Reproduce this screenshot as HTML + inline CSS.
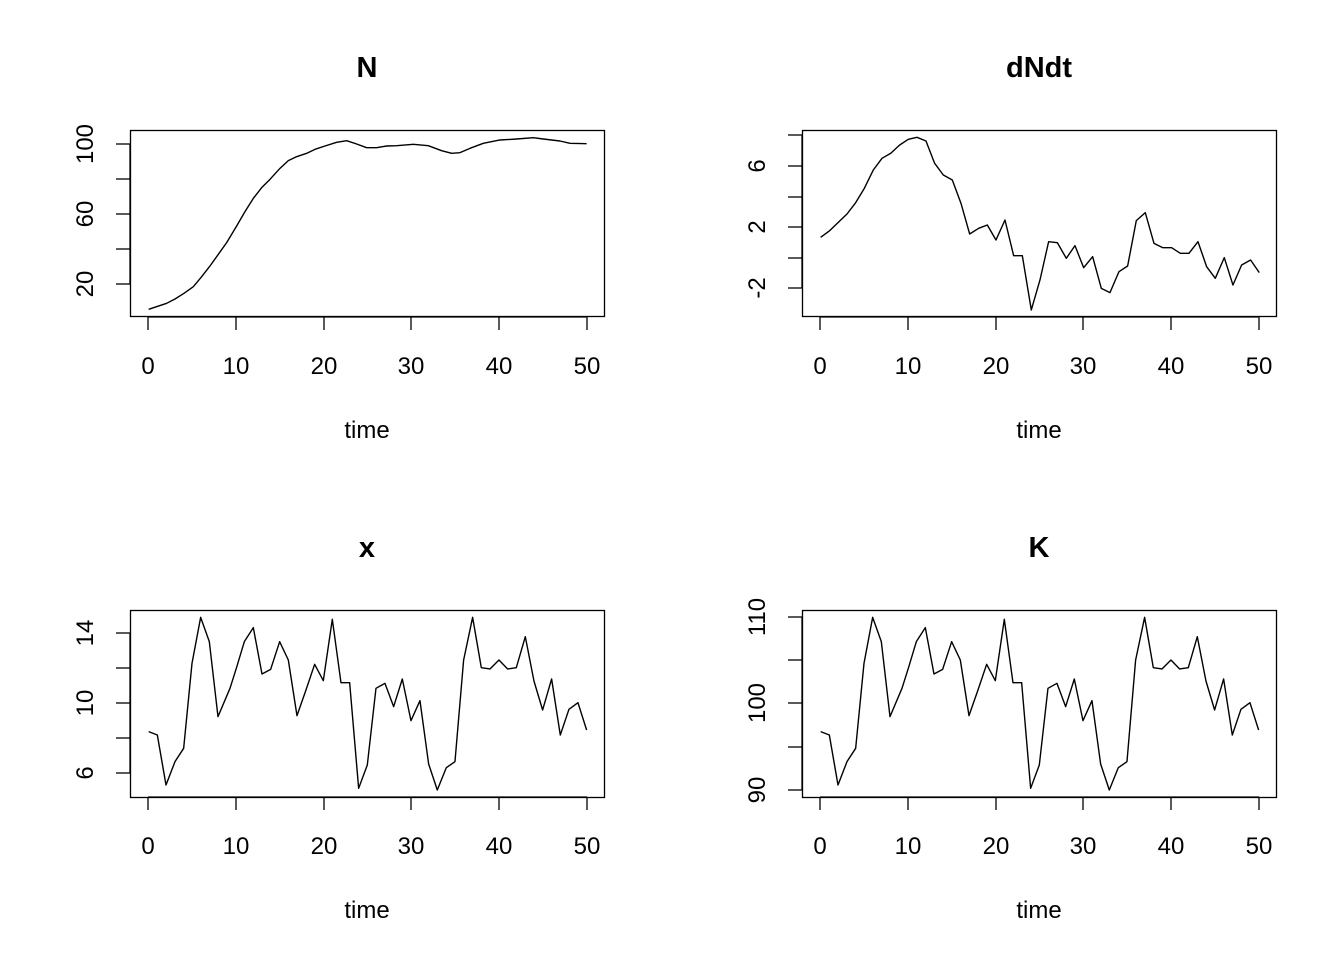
<!DOCTYPE html>
<html><head><style>body{margin:0;background:#fff}svg{display:block}text{font-family:"Liberation Sans",Arial,sans-serif;fill:#000}</style></head>
<body>
<svg width="1344" height="960" viewBox="0 0 1344 960" xmlns="http://www.w3.org/2000/svg">
<defs>
<g id="xaxis" stroke="#000" stroke-width="1.3" fill="none">
<line x1="148" y1="0" x2="587" y2="0"/>
<line x1="148" y1="0" x2="148" y2="13"/><line x1="236" y1="0" x2="236" y2="13"/><line x1="324" y1="0" x2="324" y2="13"/><line x1="411" y1="0" x2="411" y2="13"/><line x1="499" y1="0" x2="499" y2="13"/><line x1="587" y1="0" x2="587" y2="13"/>
</g>
<g id="xlabels" font-size="24" text-anchor="middle">
<text x="148" y="0">0</text><text x="236" y="0">10</text><text x="324" y="0">20</text><text x="411" y="0">30</text><text x="499" y="0">40</text><text x="587" y="0">50</text>
</g>
</defs>
<g fill="none" stroke="#000" stroke-width="1.3">
<rect x="130.5" y="130.5" width="474" height="186"/>
<rect x="802.5" y="130.5" width="474" height="186"/>
<rect x="130.5" y="610.5" width="474" height="187"/>
<rect x="802.5" y="610.5" width="474" height="187"/>
</g>
<use href="#xaxis" x="0" y="317"/><use href="#xaxis" x="672" y="317"/>
<use href="#xaxis" x="0" y="797"/><use href="#xaxis" x="672" y="797"/>
<use href="#xlabels" x="0" y="374"/><use href="#xlabels" x="672" y="374"/>
<use href="#xlabels" x="0" y="854"/><use href="#xlabels" x="672" y="854"/>
<g font-size="24" text-anchor="middle">
<text x="367" y="438">time</text><text x="1039" y="438">time</text>
<text x="367" y="918">time</text><text x="1039" y="918">time</text>
</g>
<g font-size="29" font-weight="bold" text-anchor="middle">
<text x="367" y="77">N</text><text x="1039" y="77">dNdt</text>
<text x="367" y="557">x</text><text x="1039" y="557">K</text>
</g>
<!-- y axes -->
<g stroke="#000" stroke-width="1.3" fill="none">
<line x1="130" y1="144" x2="130" y2="284"/>
<line x1="116" y1="144" x2="130" y2="144"/><line x1="116" y1="179" x2="130" y2="179"/><line x1="116" y1="214" x2="130" y2="214"/><line x1="116" y1="249" x2="130" y2="249"/><line x1="116" y1="284" x2="130" y2="284"/>
<line x1="802" y1="135" x2="802" y2="288"/>
<line x1="788" y1="135" x2="802" y2="135"/><line x1="788" y1="166" x2="802" y2="166"/><line x1="788" y1="197" x2="802" y2="197"/><line x1="788" y1="227" x2="802" y2="227"/><line x1="788" y1="258" x2="802" y2="258"/><line x1="788" y1="288" x2="802" y2="288"/>
<line x1="130" y1="633" x2="130" y2="773"/>
<line x1="116" y1="633" x2="130" y2="633"/><line x1="116" y1="668" x2="130" y2="668"/><line x1="116" y1="703" x2="130" y2="703"/><line x1="116" y1="738" x2="130" y2="738"/><line x1="116" y1="773" x2="130" y2="773"/>
<line x1="802" y1="617" x2="802" y2="790"/>
<line x1="788" y1="617" x2="802" y2="617"/><line x1="788" y1="660" x2="802" y2="660"/><line x1="788" y1="703" x2="802" y2="703"/><line x1="788" y1="747" x2="802" y2="747"/><line x1="788" y1="790" x2="802" y2="790"/>
</g>
<g font-size="24" text-anchor="middle">
<text transform="translate(93,144) rotate(-90)">100</text>
<text transform="translate(93,214) rotate(-90)">60</text>
<text transform="translate(93,284) rotate(-90)">20</text>
<text transform="translate(765,166) rotate(-90)">6</text>
<text transform="translate(765,227) rotate(-90)">2</text>
<text transform="translate(765,288) rotate(-90)">-2</text>
<text transform="translate(93,633) rotate(-90)">14</text>
<text transform="translate(93,703) rotate(-90)">10</text>
<text transform="translate(93,773) rotate(-90)">6</text>
<text transform="translate(765,617) rotate(-90)">110</text>
<text transform="translate(765,703) rotate(-90)">100</text>
<text transform="translate(765,790) rotate(-90)">90</text>
</g>
<!-- series -->
<g fill="none" stroke="#000" stroke-width="4.2" stroke-linejoin="round">
<polyline transform="translate(130,125) scale(0.3333)" points="56,553 110,535 135,522 162,505 190,485 215,455 240,423 265,388 290,353 320,303 345,260 370,220 395,188 420,163 450,130 475,107 500,95 530,85 555,73 585,63 620,52 650,47 680,57 710,68 740,68 770,63 800,62 850,58 895,62 935,77 965,85 990,83 1020,70 1060,55 1110,45 1160,42 1210,38 1240,42 1290,48 1320,55 1370,56"/>
<polyline transform="translate(800,125) scale(0.3333)" points="62,337 88,318 114,293 141,267 167,233 193,190 220,135 246,100 272,85 299,60 325,43 351,37 378,48 404,115 430,150 457,165 483,235 509,327 536,310 562,300 588,345 615,285 641,392 667,392 694,555 720,465 746,350 772,353 799,400 825,362 851,428 878,395 904,490 930,503 957,440 983,423 1009,287 1036,263 1062,355 1088,368 1115,368 1141,385 1167,385 1194,350 1220,425 1246,460 1273,398 1299,480 1325,420 1352,405 1378,443"/>
<polyline id="xs" transform="translate(130,600) scale(0.3333)" points="56,395 82,405 108,555 135,485 161,445 186,190 212,52 238,125 264,350 300,265 319,205 343,125 370,83 396,222 422,208 449,125 475,180 501,347 528,270 554,193 580,242 607,58 633,248 659,248 686,565 712,495 738,265 765,250 791,320 817,237 843,362 870,302 896,492 922,570 949,503 975,485 1001,180 1028,52 1054,203 1080,207 1107,180 1133,207 1159,203 1186,110 1212,243 1238,330 1265,237 1291,405 1317,328 1344,308 1370,390"/>
<polyline transform="translate(802,600) scale(0.3333)" points="56,395 82,405 108,555 135,485 161,445 186,190 212,52 238,125 264,350 300,265 319,205 343,125 370,83 396,222 422,208 449,125 475,180 501,347 528,270 554,193 580,242 607,58 633,248 659,248 686,565 712,495 738,265 765,250 791,320 817,237 843,362 870,302 896,492 922,570 949,503 975,485 1001,180 1028,52 1054,203 1080,207 1107,180 1133,207 1159,203 1186,110 1212,243 1238,330 1265,237 1291,405 1317,328 1344,308 1370,390"/>
</g>
</svg>
</body></html>
